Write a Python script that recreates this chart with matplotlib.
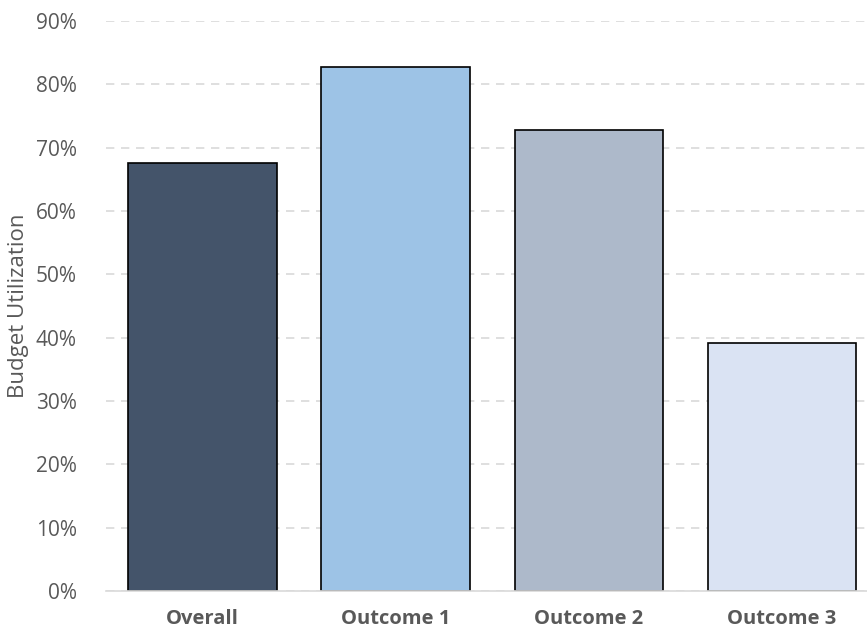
import matplotlib
matplotlib.use("Agg")
import matplotlib.pyplot as plt
from matplotlib.ticker import PercentFormatter

# Dados
categorias = ["Overall", "Outcome 1", "Outcome 2", "Outcome 3"]
utilizacao = [0.676, 0.827, 0.728, 0.392]
cores = ["#44546A", "#9DC3E6", "#ADB9CA", "#DAE3F3"]

plt.rcParams["font.family"] = ["Open Sans", "DejaVu Sans"]

fig = plt.figure(figsize=(8.67, 6.33), dpi=100)
ax = fig.add_axes([0.1223, 0.0664, 0.8777, 0.9004])

x = range(len(categorias))
ax.bar(x, utilizacao, width=0.77, color=cores, edgecolor="black", linewidth=1.2, zorder=3)

ax.set_xlim(-0.5, 3.44)
ax.set_ylim(0, 0.9)
ax.set_yticks([i / 10 for i in range(10)])
ax.yaxis.set_major_formatter(PercentFormatter(1.0, decimals=0))
ax.set_xticks(list(x))
ax.set_xticklabels(categorias, fontsize=14.5, fontweight="bold", color="#595959")
ax.tick_params(axis="y", labelsize=15, labelcolor="#595959", length=0, pad=21)
ax.tick_params(axis="x", length=0, pad=13)

ax.grid(axis="y", color="#D9D9D9", linestyle=(0, (5, 4)), linewidth=1.2, zorder=0)
for lado in ["top", "right", "left"]:
    ax.spines[lado].set_visible(False)
ax.spines["bottom"].set_color("#D9D9D9")
ax.spines["bottom"].set_linewidth(1.2)
ax.spines["bottom"].set_zorder(4)

ax.set_ylabel("Budget Utilization", fontsize=16, color="#595959", labelpad=5)

fig.savefig("out.png", dpi=100)
